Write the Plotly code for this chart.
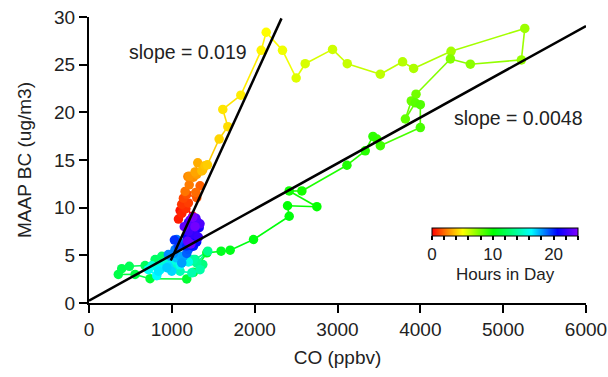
import plotly.graph_objects as go
from plotly.colors import sample_colorscale

# ---- data ----
hours = [0.00, 0.17, 0.33, 0.50, 0.67, 0.83, 1.00, 1.17, 1.33, 1.50, 1.67, 1.83,
         2.00, 2.17, 2.33, 2.50, 2.67, 2.83, 3.00, 3.17, 3.33, 3.50, 3.67, 3.83,
         4.00, 4.17, 4.33, 4.50, 4.67, 4.83, 5.00, 5.33, 5.67, 5.83, 6.00, 6.17,
         6.33, 6.50, 6.67, 6.83, 7.00, 7.17, 7.33, 7.50, 7.83, 8.00, 8.17, 8.33,
         8.50, 8.67, 8.83, 9.00, 9.17, 9.33, 9.50, 9.67, 9.83, 10.00, 10.17, 10.33,
         10.50, 10.67, 10.83, 11.00, 11.17, 11.33, 11.50, 11.67, 11.83, 12.00, 12.17, 12.33,
         12.50, 12.67, 12.83, 13.00, 13.17, 13.33, 13.50, 13.67, 13.83, 14.00, 14.17, 14.33,
         14.50, 14.67, 14.83, 15.00, 15.17, 15.33, 15.50, 15.67, 15.83, 16.00, 16.17, 16.33,
         16.50, 16.67, 16.83, 17.00, 17.17, 17.33, 17.50, 17.67, 17.83, 18.00, 18.17, 18.33,
         18.50, 18.67, 18.83, 19.00, 19.17, 19.33, 19.50, 19.67, 19.83, 20.00, 20.17, 20.33,
         20.50, 20.67, 20.83, 21.00, 21.17, 21.33, 21.50, 21.67, 21.83, 22.00, 22.17, 22.33,
         22.50, 22.67, 22.83, 23.00, 23.17, 23.33, 23.50, 23.67, 23.83]
co_ppbv = [1253, 1140, 1100, 1080, 1120, 1170, 1119, 1200, 1140, 1180, 1301, 1341,
           1290, 1160, 1210, 1193, 1261, 1212, 1301, 1281, 1313, 1374, 1362, 1402,
           1430, 1571, 1676, 1615, 1833, 2079, 2139, 2336, 2501, 2610, 2940, 3118,
           3517, 3786, 3919, 4371, 5261, 5220, 4604, 4363, 3948, 3891, 3819, 3939,
           4000, 4000, 3517, 3476, 3428, 3335, 3114, 2570, 2417, 2751, 2397, 2417,
           1986, 1704, 1595, 1422, 1261, 1180, 737, 556, 354, 395, 487, 677,
           798, 878, 958, 1079, 1374, 1281, 1434, 1301, 1180, 1261, 1341, 1241,
           1100, 1000, 1150, 1040, 920, 860, 760, 1020, 1200, 1100, 717, 818,
           858, 838, 958, 999, 940, 1059, 979, 1100, 1140, 1120, 1020, 958,
           1039, 1059, 1100, 1180, 1200, 1150, 1080, 1230, 1031, 1180, 1221, 1261,
           1300, 1240, 1180, 1281, 1330, 1250, 1200, 1301, 1230, 1270, 1320, 1200,
           1260, 1340, 1290, 1220, 1150, 1190, 1230, 1280, 1253]
bc_ugm3 = [9.1, 10.4, 9.7, 8.8, 9.4, 9.9, 10.35, 10.5, 11.0, 11.4, 11.05, 12.3,
           11.6, 11.7, 12.4, 13.26, 13.2, 13.3, 13.5, 13.75, 14.7, 14.0, 13.85, 14.4,
           14.5, 17.2, 18.5, 20.3, 21.8, 26.5, 28.4, 26.5, 23.6, 25.1, 26.6, 25.1,
           24.0, 25.3, 24.6, 26.4, 28.8, 25.5, 25.05, 25.6, 21.9, 21.2, 19.3, 21.0,
           20.8, 18.4, 16.5, 17.2, 17.47, 15.96, 14.45, 11.75, 11.75, 10.1, 10.2, 9.1,
           6.66, 5.54, 5.43, 5.26, 3.22, 2.52, 2.55, 3.0, 3.0, 3.6, 3.85, 3.93,
           4.56, 4.9, 4.56, 4.03, 4.03, 4.56, 5.43, 4.2, 4.9, 4.56, 3.5, 3.16,
           3.33, 3.6, 4.4, 3.9, 4.3, 4.0, 3.9, 4.5, 4.3, 4.0, 3.5, 2.87,
           3.5, 3.33, 3.85, 3.33, 3.7, 4.74, 4.9, 4.9, 4.9, 4.2, 5.2, 5.08,
           5.6, 6.66, 6.3, 5.2, 5.6, 6.0, 5.9, 6.3, 6.6, 6.0, 6.66, 5.96,
           6.4, 7.0, 7.0, 7.54, 7.9, 7.8, 8.42, 8.6, 8.0, 7.2, 6.9, 7.5,
           8.3, 8.3, 8.9, 8.7, 8.0, 6.5, 6.2, 8.0, 9.0]

# fit lines: slope, intercept, x-start, x-end
fit_slopes = [0.019, 0.0048]
fit_intercepts = [-14.3, 0.25]
fit_xstart = [987, 0]
fit_xend = [2324, 6000]
fit_labels = ["slope = 0.019", "slope = 0.0048"]
label_x = [1196, 5184]
label_y = [26.3, 19.4]

x_ticks = [0, 1000, 2000, 3000, 4000, 5000, 6000]
y_ticks = [0, 5, 10, 15, 20, 25, 30]
cb_ticks = [0, 2, 4, 6, 8, 10, 12, 14, 16, 18, 20, 22, 24]
cb_ticktext = ["0", "", "", "", "", "10", "", "", "", "", "20", "", ""]

rainbow = [[0.0, "#ff0000"], [0.1, "#ff8000"], [0.21, "#ffff00"], [0.42, "#00ff00"],
           [0.68, "#00ffff"], [0.86, "#0000ff"], [1.0, "#8000ff"]]

FONT = "Liberation Sans, Arial, sans-serif"

fig = go.Figure()

# coloured connecting segments
for i in range(len(hours) - 1):
    c = sample_colorscale(rainbow, [hours[i] / 24.0])[0]
    fig.add_trace(go.Scatter(x=[co_ppbv[i], co_ppbv[i + 1]], y=[bc_ugm3[i], bc_ugm3[i + 1]],
                             mode="lines", line=dict(color=c, width=1.6),
                             hoverinfo="skip", showlegend=False))

# markers
fig.add_trace(go.Scatter(
    x=co_ppbv, y=bc_ugm3, mode="markers", showlegend=False, cliponaxis=False,
    marker=dict(size=9.5, color=hours, colorscale=rainbow, cmin=0, cmax=24,
                line=dict(width=0),
                colorbar=dict(orientation="h", x=0.69, xanchor="left", y=0.262, yanchor="top",
                              len=146, lenmode="pixels", thickness=8, xpad=0, ypad=0,
                              outlinecolor="black", outlinewidth=1,
                              tickvals=cb_ticks, ticktext=cb_ticktext,
                              ticks="outside", ticklen=4, tickwidth=1.5, tickcolor="black",
                              tickfont=dict(family=FONT, size=17, color="#222")))))

# fit lines
for s, b, x0, x1 in zip(fit_slopes, fit_intercepts, fit_xstart, fit_xend):
    fig.add_trace(go.Scatter(x=[x0, x1], y=[s * x0 + b, s * x1 + b], mode="lines",
                             line=dict(color="black", width=2.5), showlegend=False,
                             hoverinfo="skip"))

for t, lx, ly in zip(fit_labels, label_x, label_y):
    fig.add_annotation(x=lx, y=ly, text=t, showarrow=False, xanchor="center", yanchor="middle",
                       font=dict(family=FONT, size=19.5, color="#222"))

fig.add_annotation(x=0.838, y=0.10, xref="paper", yref="paper", text="Hours in Day",
                   showarrow=False, xanchor="center", yanchor="middle",
                   font=dict(family=FONT, size=17, color="#222"))

axis_common = dict(showline=True, linecolor="black", linewidth=2, ticks="outside",
                   ticklen=8, tickwidth=2, tickcolor="black", showgrid=False,
                   zeroline=False, automargin=False,
                   tickfont=dict(family=FONT, size=19, color="#222"))

fig.update_xaxes(range=[0, 6000], tickvals=x_ticks, **axis_common,
                 title=dict(text="CO (ppbv)", font=dict(family=FONT, size=19, color="#222"),
                            standoff=12))
fig.update_yaxes(range=[0, 30], tickvals=y_ticks, **axis_common,
                 title=dict(text="MAAP BC (ug/m3)", font=dict(family=FONT, size=19, color="#222"),
                            standoff=17))

fig.update_layout(width=608, height=377, margin=dict(l=89, r=22, t=17, b=74, autoexpand=False),
                  paper_bgcolor="white", plot_bgcolor="white",
                  font=dict(family=FONT, color="#222"))

fig.write_html("out.html")
